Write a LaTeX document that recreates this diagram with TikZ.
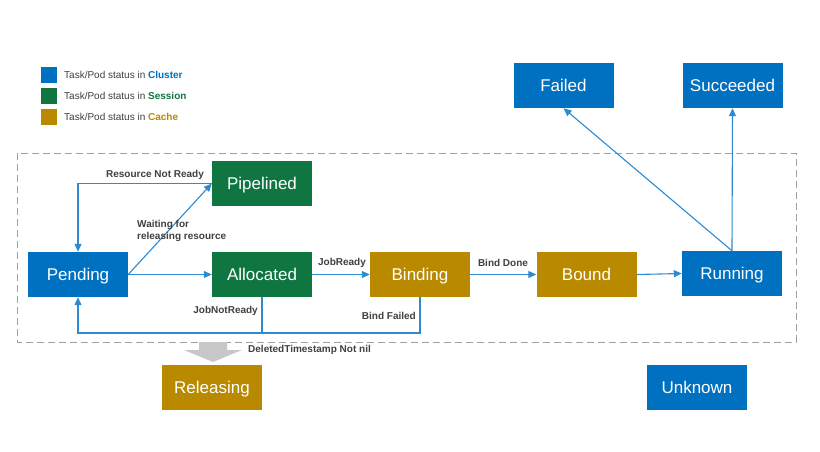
\documentclass[tikz,border=0pt]{standalone}
\usepackage{fontspec}
\setmainfont{Liberation Sans}
\usetikzlibrary{arrows.meta}
\definecolor{cblue}{HTML}{0070C0}
\definecolor{cgreen}{HTML}{0F7642}
\definecolor{cgold}{HTML}{B98900}
\definecolor{cline}{HTML}{2E8BD0}
\definecolor{ctext}{HTML}{404040}
\definecolor{cdash}{HTML}{A0A0A0}
\tikzset{
  state/.style={minimum width=100pt,minimum height=45pt,inner sep=0pt,text height=12.3pt,text depth=0pt,text=white,font=\fontsize{17}{20}\selectfont},
  sblue/.style={state,fill=cblue},
  sgreen/.style={state,fill=cgreen},
  sgold/.style={state,fill=cgold},
  conn/.style={draw=cline,line width=1.1pt,-{Triangle[length=8pt,width=7pt]}},
  plain/.style={draw=cline,line width=1.1pt},
  lbl/.style={text=ctext,font=\fontsize{10}{12}\selectfont\bfseries,inner sep=0pt},
  leg/.style={text=ctext,font=\fontsize{10}{12}\selectfont,inner sep=0pt,anchor=west},
  legbox/.style={minimum width=16pt,minimum height=16pt,inner sep=0pt}
}
\begin{document}
\begin{tikzpicture}[x=1pt,y=-1pt]
\useasboundingbox[fill=white] (0,0) rectangle (820,452);
% dashed frame
\draw[cdash,line width=1pt,dash pattern=on 7pt off 4pt] (17,153) rectangle (796,342);
% legend
\node[legbox,fill=cblue] (lg1) at (49,75) {};
\node[legbox,fill=cgreen] (lg2) at (49,96) {};
\node[legbox,fill=cgold] (lg3) at (49,117) {};
\node[leg] (lt1) at (64,75) {Task/Pod status in \textcolor{cblue}{\bfseries Cluster}};
\node[leg] (lt2) at (64,96) {Task/Pod status in \textcolor{cgreen}{\bfseries Session}};
\node[leg] (lt3) at (64,117) {Task/Pod status in \textcolor{cgold}{\bfseries Cache}};
% states
\node[sblue] (pending) at (78,274.5) {Pending};
\node[sgreen] (pipelined) at (262,183.5) {Pipelined};
\node[sgreen] (allocated) at (262,274.5) {Allocated};
\node[sgold] (binding) at (420,274.5) {Binding};
\node[sgold] (bound) at (586.5,274.5) {Bound};
\node[sblue] (running) at (732,273.5) {Running};
\node[sblue] (failed) at (563.5,85.5) {Failed};
\node[sblue] (succeeded) at (732.5,85.5) {Succeeded};
\node[sgold] (releasing) at (212,387.5) {Releasing};
\node[sblue] (unknown) at (697,387.5) {Unknown};
% connectors
\draw[conn] (pipelined.west) -| (pending.north);
\draw[conn] (pending.east) -- (pipelined.west);
\draw[conn] (pending.east) -- (allocated.west);
\draw[conn] (allocated.east) -- (binding.west);
\draw[conn] (binding.east) -- (bound.west);
\draw[conn] (bound.east) -- (running.west);
\coordinate (j1) at (262,333);
\coordinate (j2) at (420,333);
\draw[conn] (allocated.south) -- (j1) -| (pending.south);
\draw[plain] (binding.south) -- (j2) -- (j1);
\draw[conn] (running.north) -- (failed.south);
\draw[conn] (running.north) -- (succeeded.south);
% gray block arrow
\fill[black!22] (199,342) -- (227,342) -- (227,350) -- (242,350) -- (213,362) -- (184,350) -- (199,350) -- cycle;
% labels
\node[lbl] (l1) at (155,175) {Resource Not Ready};
\node[lbl,align=left,anchor=north west] (l2) at (137,220) {Waiting for\\releasing resource};
\node[lbl] (l3) at (342,263) {JobReady};
\node[lbl] (l4) at (503,263) {Bind Done};
\node[lbl,anchor=east] (l5) at (258,311) {JobNotReady};
\node[lbl,anchor=east] (l6) at (416,316) {Bind Failed};
\node[lbl,anchor=west] (l7) at (248,350) {DeletedTimestamp Not nil};
\end{tikzpicture}
\end{document}
